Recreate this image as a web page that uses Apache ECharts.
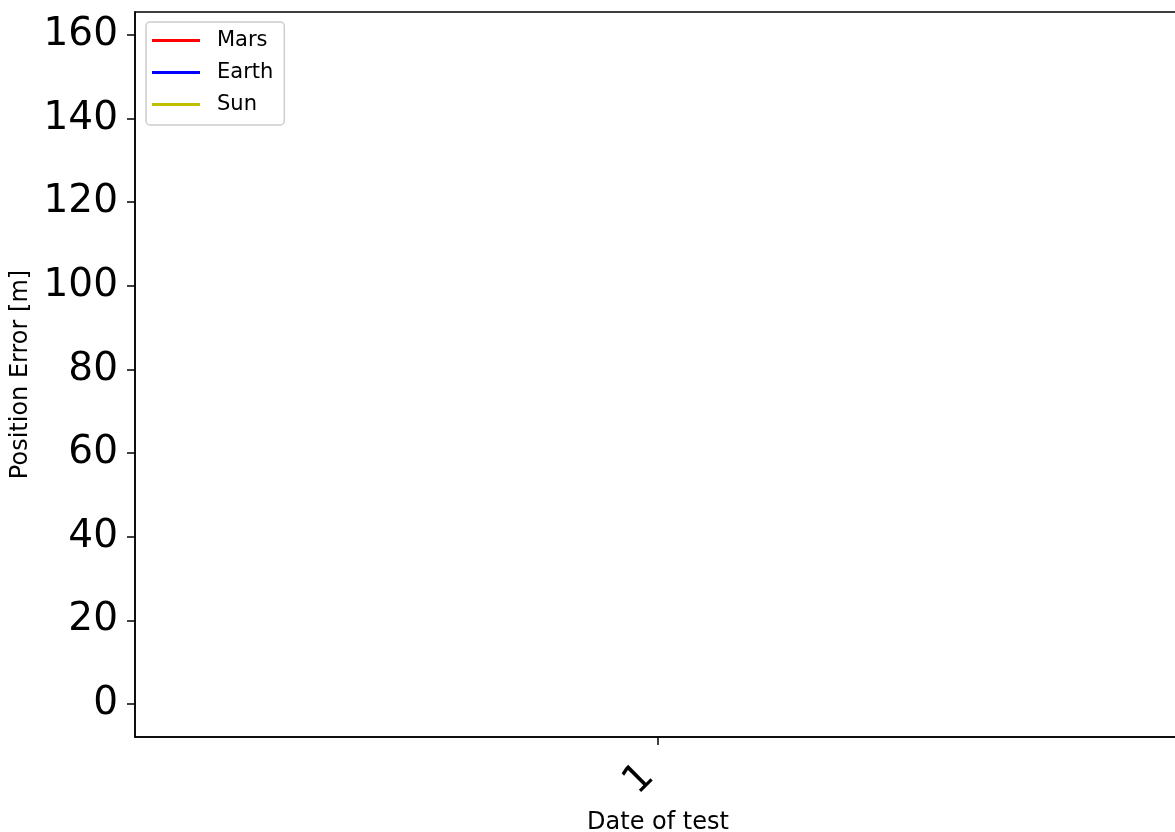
<!DOCTYPE html>
<html>
<head>
<meta charset="utf-8">
<script src="https://cdn.jsdelivr.net/npm/echarts@6/dist/echarts.min.js"></script>
<style>html,body{margin:0;padding:0;background:#fff}#c{width:1175px;height:832px}</style>
</head>
<body>
<div id="c"></div>
<script>
var categories = ['1'];
var marsValues = [157.6];
var earthValues = [45];
var sunValues = [0];
var yTickLabels = [0, 20, 40, 60, 80, 100, 120, 140, 160];
var seriesNames = ['Mars', 'Earth', 'Sun'];
var seriesColors = ['#ff0000', '#0000ff', '#bfbf00'];

function toPoints(vals) { return vals.map(function (v, i) { return [i + 1, v]; }); }
var xPositions = categories.map(function (c, i) { return i + 1; });

var chart = echarts.init(document.getElementById('c'));
var font = 'DejaVu Sans';
chart.setOption({
  animation: false,
  backgroundColor: '#fff',
  grid: {left: 135, top: 12, bottom: 95, right: -6, show: true, borderColor: '#000', borderWidth: 1.5, containLabel: false, outerBoundsMode: 'none'},
  legend: {
    left: 146, top: 22, orient: 'vertical', icon: 'rect', itemWidth: 48, itemHeight: 3,
    itemGap: 11, padding: [8, 11, 10, 6],
    backgroundColor: '#fff', borderColor: '#cccccc', borderWidth: 1.5, borderRadius: 4,
    textStyle: {fontFamily: font, fontSize: 21, color: '#000', lineHeight: 21, padding: [0, 0, 0, 12]},
    data: seriesNames
  },
  xAxis: {
    type: 'value', min: 0.5, max: 1.5,
    name: 'Date of test', nameLocation: 'middle', nameGap: 74,
    nameTextStyle: {fontFamily: font, fontSize: 24, color: '#000'},
    axisLine: {onZero: false, lineStyle: {color: '#000', width: 1.5}},
    axisTick: {show: true, length: 8, customValues: xPositions, lineStyle: {color: '#000', width: 1.5}},
    axisLabel: {rotate: 45, fontFamily: font, fontSize: 39, color: '#000', margin: 24, padding: [0, 14, 0, 0],
      customValues: xPositions, formatter: function (v) { return categories[Math.round(v) - 1]; }},
    splitLine: {show: false}
  },
  yAxis: {
    type: 'value', min: -7.9, max: 165.5,
    name: 'Position Error [m]', nameLocation: 'middle', nameRotate: 90, nameGap: 101,
    nameTextStyle: {fontFamily: font, fontSize: 24, color: '#000'},
    axisLine: {show: true, onZero: false, lineStyle: {color: '#000', width: 1.5}},
    axisTick: {show: true, length: 8, customValues: yTickLabels, lineStyle: {color: '#000', width: 1.5}},
    axisLabel: {fontFamily: font, fontSize: 39, color: '#000', margin: 17, customValues: yTickLabels},
    splitLine: {show: false}
  },
  series: [
    {name: seriesNames[0], type: 'line', data: toPoints(marsValues), showSymbol: false, color: seriesColors[0], lineStyle: {width: 2.5}},
    {name: seriesNames[1], type: 'line', data: toPoints(earthValues), showSymbol: false, color: seriesColors[1], lineStyle: {width: 2.5}},
    {name: seriesNames[2], type: 'line', data: toPoints(sunValues), showSymbol: false, color: seriesColors[2], lineStyle: {width: 2.5}}
  ]
});
</script>
</body>
</html>
